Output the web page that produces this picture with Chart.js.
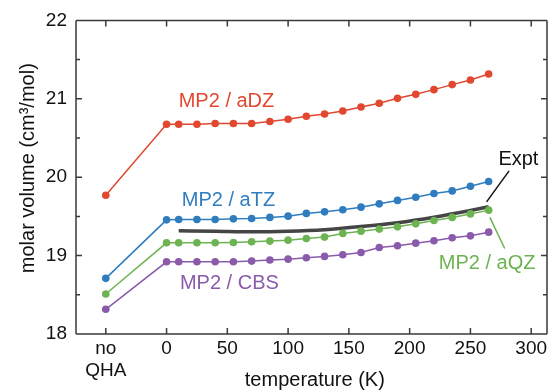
<!DOCTYPE html>
<html>
<head>
<meta charset="utf-8">
<script src="https://cdn.jsdelivr.net/npm/chart.js@4.4.1/dist/chart.umd.min.js"></script>
<style>
  html, body { margin: 0; padding: 0; background: #fff; }
  #wrap { width: 551px; height: 391px; position: relative; }
</style>
</head>
<body>
<div id="wrap"><canvas id="c"></canvas></div>
<script>
// Temperatures (K) of the QHA points; the "no QHA" value sits at a separate slot
const temps = [0, 10, 25, 40, 55, 70, 85, 100, 115, 130, 145, 160, 175, 190, 205, 220, 235, 250, 265];
const noQhaSlot = -50;

// Molar volume (cm3/mol): first entry is the "no QHA" value, the rest follow temps
const aDZ = [19.77, 20.675, 20.675, 20.675, 20.684, 20.684, 20.684, 20.71, 20.739, 20.777, 20.806, 20.845, 20.896, 20.943, 21.006, 21.057, 21.117, 21.181, 21.24, 21.316];
const aTZ = [18.71, 19.456, 19.461, 19.461, 19.461, 19.469, 19.474, 19.487, 19.503, 19.538, 19.558, 19.584, 19.618, 19.66, 19.704, 19.745, 19.792, 19.825, 19.885, 19.945];
const aQZ = [18.51, 19.163, 19.163, 19.163, 19.163, 19.168, 19.176, 19.185, 19.197, 19.219, 19.236, 19.283, 19.312, 19.338, 19.367, 19.405, 19.448, 19.487, 19.532, 19.58];
const CBS = [18.315, 18.921, 18.921, 18.921, 18.921, 18.921, 18.93, 18.943, 18.955, 18.972, 18.99, 19.01, 19.04, 19.104, 19.125, 19.159, 19.189, 19.227, 19.252, 19.299];

// Experimental curve
const exptT = [10, 40, 70, 100, 130, 160, 190, 220, 250, 265];
const exptV = [19.316, 19.31, 19.303, 19.31, 19.33, 19.37, 19.42, 19.49, 19.575, 19.622];

// Axis ticks
const xTickVals = [-50, 0, 50, 100, 150, 200, 250, 300];
const xTickText = [['no', 'QHA'], '0', '50', '100', '150', '200', '250', '300'];
const yTickVals = [18, 19, 20, 21, 22];
const xMin = -74.5, xMax = 313;

const colors = { aDZ: '#e2472f', aTZ: '#2f7dbf', aQZ: '#6cb352', CBS: '#8a5aab', expt: '#454545' };

function series(vals) {
  return [{ x: noQhaSlot, y: vals[0] }].concat(temps.map((t, i) => ({ x: t, y: vals[i + 1] })));
}
function dotted(label, vals, color) {
  return {
    label, data: series(vals), borderColor: color, backgroundColor: color,
    borderWidth: 1.5, pointRadius: 3.8, pointBorderWidth: 0, pointBackgroundColor: color,
    tension: 0
  };
}

// Series labels and leader lines, in data coordinates
const labels = [
  { text: 'MP2 / aDZ', x: 10, y: 20.89, color: colors.aDZ },
  { text: 'MP2 / aTZ', x: 12.5, y: 19.63, color: colors.aTZ },
  { text: 'MP2 / CBS', x: 11, y: 18.57, color: colors.CBS },
  { text: 'MP2 / aQZ', x: 224, y: 18.83, color: colors.aQZ },
  { text: 'Expt', x: 273, y: 20.16, color: '#111' }
];
const leaders = [
  { x1: 281.8, y1: 20.08, x2: 263.3, y2: 19.685, color: '#111' },
  { x1: 266, y1: 19.487, x2: 278.2, y2: 19.09, color: colors.aQZ }
];

const FONT = '"Liberation Sans", Arial, Helvetica, sans-serif';
const AXIS = '#3a3a3a';

const framePlugin = {
  id: 'frame',
  afterDraw(chart) {
    const { ctx, chartArea: a, scales: { x, y } } = chart;
    ctx.save();
    ctx.strokeStyle = AXIS;
    ctx.lineWidth = 1.5;
    ctx.beginPath();
    ctx.moveTo(a.left, a.top); ctx.lineTo(a.right, a.top);
    ctx.moveTo(a.left, a.top); ctx.lineTo(a.left, a.bottom);
    ctx.moveTo(a.left, a.bottom); ctx.lineTo(a.right, a.bottom);
    ctx.moveTo(a.right, a.top); ctx.lineTo(a.right, a.bottom);
    // x ticks, inward on top and bottom
    xTickVals.forEach(v => {
      const px = x.getPixelForValue(v);
      ctx.moveTo(px, a.top); ctx.lineTo(px, a.top + 6);
      ctx.moveTo(px, a.bottom); ctx.lineTo(px, a.bottom - 6);
    });
    // y ticks, major and minor, inward on both sides
    for (let v = 18; v <= 22.001; v += 0.5) {
      const py = y.getPixelForValue(v);
      const len = Math.abs(v - Math.round(v)) < 1e-6 ? 6 : 4;
      ctx.moveTo(a.left, py); ctx.lineTo(a.left + len, py);
      ctx.moveTo(a.right, py); ctx.lineTo(a.right - len, py);
    }
    ctx.stroke();

    // leader lines
    leaders.forEach(l => {
      ctx.beginPath();
      ctx.strokeStyle = l.color;
      ctx.lineWidth = 1.5;
      ctx.moveTo(x.getPixelForValue(l.x1), y.getPixelForValue(l.y1));
      ctx.lineTo(x.getPixelForValue(l.x2), y.getPixelForValue(l.y2));
      ctx.stroke();
    });

    // series labels
    ctx.font = '20px ' + FONT;
    ctx.textAlign = 'left';
    ctx.textBaseline = 'alphabetic';
    labels.forEach(l => {
      ctx.fillStyle = l.color;
      ctx.fillText(l.text, x.getPixelForValue(l.x), y.getPixelForValue(l.y));
    });

    // axis titles
    ctx.fillStyle = '#111';
    ctx.textAlign = 'center';
    ctx.fillText('temperature (K)', x.getPixelForValue(122), 386);
    ctx.save();
    ctx.translate(34, (a.top + a.bottom) / 2 - 9);
    ctx.rotate(-Math.PI / 2);
    ctx.fillText('molar volume (cm³/mol)', 0, 0);
    ctx.restore();
    ctx.restore();
  }
};

new Chart(document.getElementById('c'), {
  type: 'line',
  data: {
    datasets: [
      dotted('MP2 / aDZ', aDZ, colors.aDZ),
      dotted('MP2 / aTZ', aTZ, colors.aTZ),
      dotted('MP2 / aQZ', aQZ, colors.aQZ),
      dotted('MP2 / CBS', CBS, colors.CBS),
      {
        label: 'Expt', data: exptT.map((t, i) => ({ x: t, y: exptV[i] })),
        borderColor: colors.expt, borderWidth: 3.5, pointRadius: 0,
        cubicInterpolationMode: 'monotone'
      }
    ]
  },
  options: {
    responsive: true,
    maintainAspectRatio: false,
    animation: false,
    layout: { padding: { top: 20, right: 0, left: 0, bottom: 0 } },
    plugins: { legend: { display: false }, tooltip: { enabled: false } },
    scales: {
      x: {
        type: 'linear', min: xMin, max: xMax,
        // blank end ticks keep the labelled ticks from padding the plot edges
        afterBuildTicks: s => { s.ticks = [xMin, ...xTickVals, xMax].map(v => ({ value: v })); },
        afterFit: s => { s.height = 57; },
        grid: { display: false, drawTicks: false },
        border: { display: false },
        ticks: {
          padding: 4, color: '#111', maxRotation: 0, autoSkip: false,
          font: { family: FONT, size: 19, lineHeight: 1.15 },
          callback: v => { const i = xTickVals.indexOf(v); return i < 0 ? '' : xTickText[i]; }
        }
      },
      y: {
        min: 18, max: 22,
        afterBuildTicks: s => { s.ticks = yTickVals.map(v => ({ value: v })); },
        afterFit: s => { s.width = 76; },
        grid: { display: false, drawTicks: false },
        border: { display: false },
        ticks: { padding: 9, color: '#111', font: { family: FONT, size: 19 } }
      }
    }
  },
  plugins: [framePlugin]
});
</script>
</body>
</html>
